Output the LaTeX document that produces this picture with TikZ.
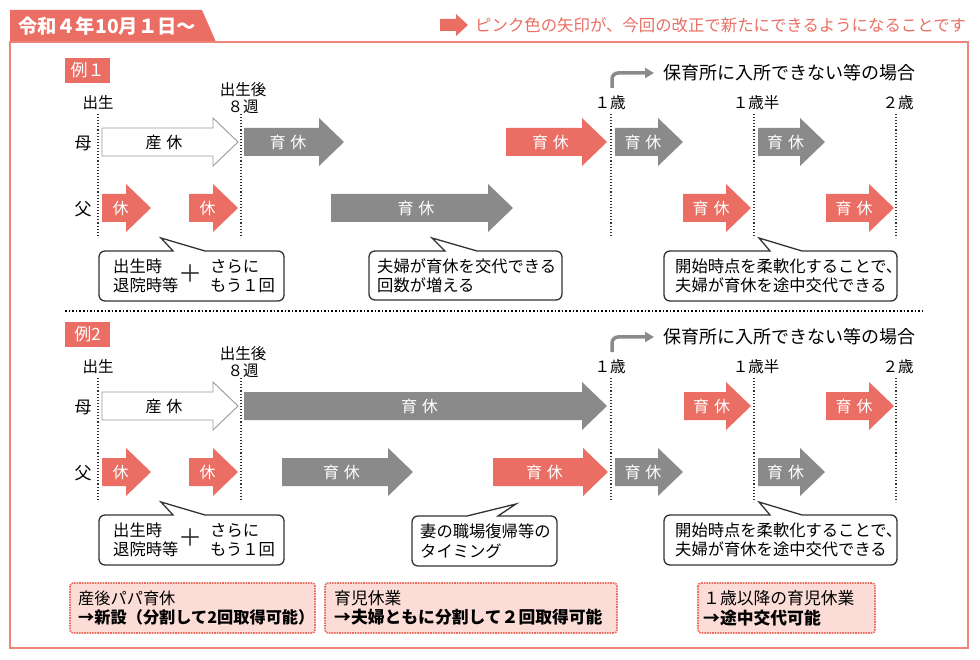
\documentclass[tikz,border=0pt]{standalone}
\usepackage{fontspec}
\setmainfont{Noto Sans CJK JP}
\usetikzlibrary{arrows.meta}
\definecolor{salmon}{HTML}{EA6E63}
\definecolor{framered}{HTML}{EF8379}
\definecolor{arrgray}{HTML}{8A8A8A}
\definecolor{notepink}{HTML}{FBDCD6}
\definecolor{textgray}{HTML}{333333}

% block arrow: name, style, x from, x to, y, label
\newcommand{\kyuka}[6]{%
	\fill[#2] (#3,#5-14) -- (#4-25,#5-14) -- (#4-25,#5-24) -- (#4,#5) -- (#4-25,#5+24) -- (#4-25,#5+14) -- (#3,#5+14) -- cycle;
	\node[lbl] (#1) at ({(#3+#4)/2-6},#5) {#6};}
% speech box: left, top, right, bottom, pointer base from, to, tip x, tip y
\newcommand{\fukidashi}[8]{%
	\filldraw[fill=white, draw=textgray, line width=1.3] (#6,#2) [rounded corners=6] -- (#3,#2) -- (#3,#4) -- (#1,#4) -- (#1,#2) [sharp corners] -- (#5,#2) -- (#7,#8) -- cycle;}
\newcommand{\ikukyu}{育\hspace{5pt}休}

\begin{document}
\begin{tikzpicture}[x=1pt, y=-1pt,
	lbl/.style={text=white, inner sep=0pt, font=\fontsize{16}{18}\selectfont},
	pinkarr/.style={fill=salmon},
	grayarr/.style={fill=arrgray},
	whitearr/.style={fill=white, draw=gray!80, line width=0.9},
	tick/.style={inner sep=0pt, align=center, font=\fontsize{15.5}{17}\selectfont},
	dotline/.style={dotted, line width=1.1, textgray},
	row/.style={inner sep=0pt, font=\fontsize{17}{18}\selectfont},
	note/.style={align=left, anchor=west, inner sep=0pt, font=\fontsize{16.3}{19.5}\selectfont},
	pinkbox/.style={fill=notepink, draw=salmon, densely dotted, line width=1.6, rounded corners=3},
	boxtext/.style={align=left, anchor=west, inner sep=0pt, font=\fontsize{16.8}{19.5}\selectfont},
	rei/.style={fill=salmon, text=white, inner sep=0pt, minimum width=45, minimum height=25, font=\fontsize{17}{18}\selectfont},
	bentarrow/.style={arrgray, line width=3.5, rounded corners=6, -{Triangle[length=9,width=10]}},
	case/.style={anchor=west, inner sep=0pt, font=\fontsize{18}{20}\selectfont},
	plus/.style={inner sep=0pt, textgray, font=\fontsize{24}{24}\selectfont}]
	\useasboundingbox (0,0) rectangle (980,660);

	% title and frame
	\fill[salmon] (10,10) -- (202,10) -- (216,42) -- (10,42) -- cycle;
	\node[text=white, inner sep=0pt, font=\bfseries\fontsize{19.3}{20}\selectfont] (title) at (107,26) {令和４年10月１日～};
	\draw[framered, line width=2.5] (10,42) rectangle (968,648);
	\fill[salmon] (440,19) -- (456,19) -- (456,14) -- (468,25) -- (456,36) -- (456,31) -- (440,31) -- cycle;
	\node[anchor=west, text=salmon, inner sep=0pt, font=\fontsize{16.4}{17}\selectfont] (legend) at (475,25) {ピンク色の矢印が、今回の改正で新たにできるようになることです};

	% example 1
	\node[rei] (rei1) at (87.5,70.5) {例１};
	\node[tick] (birth1) at (98,103) {出生};
	\node[tick] (week1) at (243,98.5) {出生後\\８週};
	\node[tick] (one1) at (610,103) {１歳};
	\node[tick] (half1) at (756,103) {１歳半};
	\node[tick] (two1) at (898,103) {２歳};
	\draw[dotline] (98,114) -- (98,238);
	\draw[dotline] (241,114) -- (241,238);
	\draw[dotline] (611,114) -- (611,238);
	\draw[dotline] (754,114) -- (754,238);
	\draw[dotline] (896,114) -- (896,238);
	\coordinate (k1) at (612,88);
	\node[case] (case1) at (663,73) {保育所に入所できない等の場合};
	\draw[bentarrow] (k1) |- ([xshift=-9]case1.west);
	\node[row] (mo1) at (83,143) {母};
	\node[row] (fa1) at (83,209) {父};

	\kyuka{san1}{whitearr}{102}{238}{142}{\textcolor{black}{産\hspace{5pt}休}}
	\kyuka{m1a}{grayarr}{244}{344}{142}{\ikukyu}
	\kyuka{m1b}{pinkarr}{506}{607}{142}{\ikukyu}
	\kyuka{m1c}{grayarr}{615}{683}{142}{\ikukyu}
	\kyuka{m1d}{grayarr}{758}{825}{142}{\ikukyu}
	\kyuka{f1a}{pinkarr}{102}{151}{208}{休}
	\kyuka{f1b}{pinkarr}{189}{238}{208}{休}
	\kyuka{f1c}{grayarr}{331}{513}{208}{\ikukyu}
	\kyuka{f1d}{pinkarr}{683}{751}{208}{\ikukyu}
	\kyuka{f1e}{pinkarr}{826}{894}{208}{\ikukyu}

	\fukidashi{99}{251}{284}{301}{173}{205}{161}{238}
	\node[note] (n1a) at (113,276) {出生時\\退院時等};
	\node[plus] (plus1) at (190,274) {＋};
	\node[note] (n1b) at (210,276) {さらに\\もう１回};
	\fukidashi{369}{251}{562}{300}{445}{477}{432}{238}
	\node[note] (n1c) at (377,276) {夫婦が育休を交代できる\\回数が増える};
	\fukidashi{664}{251}{897}{301}{770}{802}{759}{238}
	\node[note] (n1d) at (675,276) {開始時点を柔軟化することで、\\夫婦が育休を途中交代できる};

	\draw[dotted, line width=1.6] (65,311) -- (922,311);

	% example 2
	\node[rei] (rei2) at (87.5,334.5) {例2};
	\node[tick] (birth2) at (98,367) {出生};
	\node[tick] (week2) at (243,362.5) {出生後\\８週};
	\node[tick] (one2) at (610,367) {１歳};
	\node[tick] (half2) at (756,367) {１歳半};
	\node[tick] (two2) at (898,367) {２歳};
	\draw[dotline] (98,378) -- (98,502);
	\draw[dotline] (241,378) -- (241,502);
	\draw[dotline] (611,378) -- (611,502);
	\draw[dotline] (754,378) -- (754,502);
	\draw[dotline] (896,378) -- (896,502);
	\coordinate (k2) at (612,352);
	\node[case] (case2) at (663,337) {保育所に入所できない等の場合};
	\draw[bentarrow] (k2) |- ([xshift=-9]case2.west);
	\node[row] (mo2) at (83,407) {母};
	\node[row] (fa2) at (83,473) {父};

	\kyuka{san2}{whitearr}{102}{238}{406}{\textcolor{black}{産\hspace{5pt}休}}
	\kyuka{m2a}{grayarr}{244}{607}{406}{\ikukyu}
	\kyuka{m2b}{pinkarr}{684}{751}{406}{\ikukyu}
	\kyuka{m2c}{pinkarr}{826}{894}{406}{\ikukyu}
	\kyuka{f2a}{pinkarr}{102}{151}{472}{休}
	\kyuka{f2b}{pinkarr}{189}{238}{472}{休}
	\kyuka{f2c}{grayarr}{282}{413}{472}{\ikukyu}
	\kyuka{f2d}{pinkarr}{493}{608}{472}{\ikukyu}
	\kyuka{f2e}{grayarr}{615}{683}{472}{\ikukyu}
	\kyuka{f2f}{grayarr}{758}{825}{472}{\ikukyu}

	\fukidashi{99}{515}{284}{565}{173}{205}{161}{502}
	\node[note] (n2a) at (113,540) {出生時\\退院時等};
	\node[plus] (plus2) at (190,538) {＋};
	\node[note] (n2b) at (210,540) {さらに\\もう１回};
	\fukidashi{412}{516}{557}{566}{467}{498}{516}{504}
	\node[note] (n2c) at (420,541) {妻の職場復帰等の\\タイミング};
	\fukidashi{664}{515}{897}{565}{770}{802}{759}{502}
	\node[note] (n2d) at (675,540) {開始時点を柔軟化することで、\\夫婦が育休を途中交代できる};

	% summary boxes
	\draw[pinkbox] (70,583) rectangle (315,633);
	\node[boxtext, font=\fontsize{16.2}{19.5}\selectfont] (papa) at (78,608) {産後パパ育休\\\textbf{→新設（分割して2回取得可能）}};
	\draw[pinkbox] (325,583) rectangle (617,633);
	\node[boxtext] (ikuji) at (334,608) {育児休業\\\textbf{→夫婦ともに分割して２回取得可能}};
	\draw[pinkbox] (698,583) rectangle (875,633);
	\node[boxtext] (kotai) at (703,608) {１歳以降の育児休業\\\textbf{→途中交代可能}};
\end{tikzpicture}
\end{document}
